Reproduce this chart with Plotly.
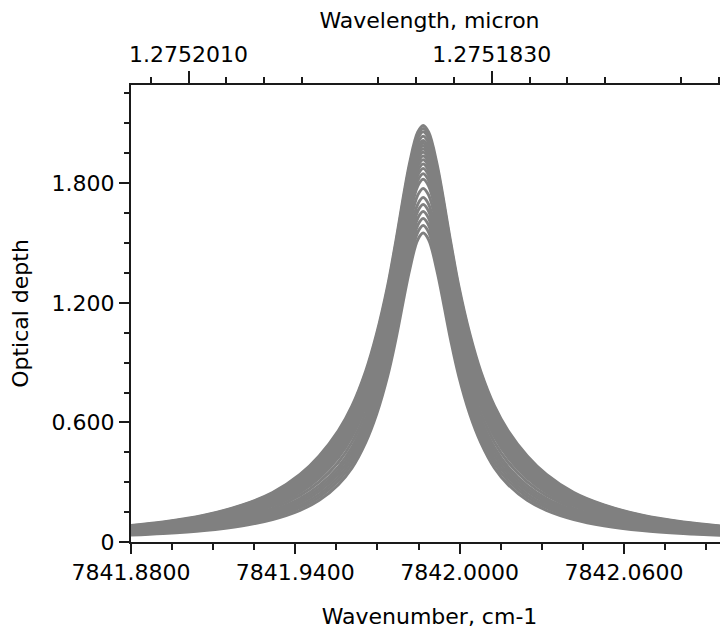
import plotly.graph_objects as go

# Wavenumber sample positions (cm-1)
wavenumber = [7841.8747, 7841.8917, 7841.9067, 7841.9207, 7841.9317, 7841.9417,
              7841.9487, 7841.9557, 7841.9607, 7841.9657, 7841.9697, 7841.9737,
              7841.9767, 7841.9817, 7841.9847, 7841.9867, 7841.9887, 7841.9917,
              7841.9967, 7841.9997, 7842.0037, 7842.0077, 7842.0127, 7842.0177,
              7842.0247, 7842.0317, 7842.0417, 7842.0527, 7842.0667, 7842.0817,
              7842.0987]

# Optical depth curves (lowest to highest)
depth_01 = [0.032, 0.043, 0.058, 0.082, 0.113, 0.159, 0.209, 0.288, 0.372, 0.500, 0.642, 0.832, 1.016, 1.363, 1.516, 1.550,
            1.516, 1.363, 1.016, 0.832, 0.642, 0.500, 0.372, 0.288, 0.209, 0.159, 0.113, 0.082, 0.058, 0.043, 0.032]
depth_02 = [0.035, 0.047, 0.063, 0.089, 0.123, 0.172, 0.225, 0.307, 0.394, 0.525, 0.670, 0.864, 1.050, 1.401, 1.554, 1.588,
            1.554, 1.401, 1.050, 0.864, 0.670, 0.525, 0.394, 0.307, 0.225, 0.172, 0.123, 0.089, 0.063, 0.047, 0.035]
depth_03 = [0.038, 0.051, 0.068, 0.096, 0.131, 0.183, 0.239, 0.325, 0.414, 0.548, 0.696, 0.893, 1.082, 1.435, 1.589, 1.623,
            1.589, 1.435, 1.082, 0.893, 0.696, 0.548, 0.414, 0.325, 0.239, 0.183, 0.131, 0.096, 0.068, 0.051, 0.038]
depth_04 = [0.041, 0.054, 0.073, 0.103, 0.140, 0.195, 0.254, 0.342, 0.434, 0.571, 0.723, 0.922, 1.114, 1.470, 1.624, 1.658,
            1.624, 1.470, 1.114, 0.922, 0.723, 0.571, 0.434, 0.342, 0.254, 0.195, 0.140, 0.103, 0.073, 0.054, 0.041]
depth_05 = [0.044, 0.058, 0.078, 0.110, 0.149, 0.207, 0.268, 0.360, 0.454, 0.595, 0.749, 0.952, 1.146, 1.505, 1.659, 1.693,
            1.659, 1.505, 1.146, 0.952, 0.749, 0.595, 0.454, 0.360, 0.268, 0.207, 0.149, 0.110, 0.078, 0.058, 0.044]
depth_06 = [0.047, 0.062, 0.083, 0.116, 0.158, 0.218, 0.283, 0.377, 0.475, 0.618, 0.775, 0.981, 1.178, 1.540, 1.694, 1.728,
            1.694, 1.540, 1.178, 0.981, 0.775, 0.618, 0.475, 0.377, 0.283, 0.218, 0.158, 0.116, 0.083, 0.062, 0.047]
depth_07 = [0.050, 0.067, 0.090, 0.125, 0.169, 0.234, 0.302, 0.400, 0.501, 0.648, 0.809, 1.020, 1.220, 1.585, 1.740, 1.774,
            1.740, 1.585, 1.220, 1.020, 0.809, 0.648, 0.501, 0.400, 0.302, 0.234, 0.169, 0.125, 0.090, 0.067, 0.050]
depth_08 = [0.054, 0.072, 0.096, 0.134, 0.181, 0.249, 0.321, 0.423, 0.528, 0.679, 0.844, 1.058, 1.262, 1.631, 1.786, 1.820,
            1.786, 1.631, 1.262, 1.058, 0.844, 0.679, 0.528, 0.423, 0.321, 0.249, 0.181, 0.134, 0.096, 0.072, 0.054]
depth_09 = [0.056, 0.074, 0.100, 0.139, 0.187, 0.258, 0.332, 0.437, 0.543, 0.696, 0.864, 1.081, 1.287, 1.657, 1.813, 1.847,
            1.813, 1.657, 1.287, 1.081, 0.864, 0.696, 0.543, 0.437, 0.332, 0.258, 0.187, 0.139, 0.100, 0.074, 0.056]
depth_10 = [0.058, 0.077, 0.104, 0.144, 0.194, 0.267, 0.343, 0.450, 0.559, 0.714, 0.884, 1.103, 1.311, 1.684, 1.840, 1.874,
            1.840, 1.684, 1.311, 1.103, 0.884, 0.714, 0.559, 0.450, 0.343, 0.267, 0.194, 0.144, 0.104, 0.077, 0.058]
depth_11 = [0.060, 0.080, 0.107, 0.149, 0.199, 0.274, 0.352, 0.461, 0.571, 0.729, 0.900, 1.121, 1.331, 1.705, 1.862, 1.896,
            1.862, 1.705, 1.331, 1.121, 0.900, 0.729, 0.571, 0.461, 0.352, 0.274, 0.199, 0.149, 0.107, 0.080, 0.060]
depth_12 = [0.062, 0.082, 0.110, 0.153, 0.205, 0.281, 0.361, 0.472, 0.584, 0.743, 0.916, 1.139, 1.351, 1.727, 1.883, 1.917,
            1.883, 1.727, 1.351, 1.139, 0.916, 0.743, 0.584, 0.472, 0.361, 0.281, 0.205, 0.153, 0.110, 0.082, 0.062]
depth_13 = [0.064, 0.084, 0.112, 0.156, 0.210, 0.288, 0.368, 0.481, 0.594, 0.755, 0.930, 1.155, 1.368, 1.746, 1.902, 1.936,
            1.902, 1.746, 1.368, 1.155, 0.930, 0.755, 0.594, 0.481, 0.368, 0.288, 0.210, 0.156, 0.112, 0.084, 0.064]
depth_14 = [0.065, 0.086, 0.115, 0.160, 0.214, 0.294, 0.376, 0.491, 0.605, 0.768, 0.944, 1.171, 1.385, 1.764, 1.921, 1.955,
            1.921, 1.764, 1.385, 1.171, 0.944, 0.768, 0.605, 0.491, 0.376, 0.294, 0.214, 0.160, 0.115, 0.086, 0.065]
depth_15 = [0.066, 0.088, 0.117, 0.163, 0.218, 0.299, 0.383, 0.499, 0.615, 0.779, 0.956, 1.185, 1.400, 1.780, 1.937, 1.971,
            1.937, 1.780, 1.400, 1.185, 0.956, 0.779, 0.615, 0.499, 0.383, 0.299, 0.218, 0.163, 0.117, 0.088, 0.066]
depth_16 = [0.068, 0.089, 0.120, 0.166, 0.222, 0.305, 0.390, 0.507, 0.624, 0.789, 0.968, 1.198, 1.415, 1.796, 1.953, 1.987,
            1.953, 1.796, 1.415, 1.198, 0.968, 0.789, 0.624, 0.507, 0.390, 0.305, 0.222, 0.166, 0.120, 0.089, 0.068]
depth_17 = [0.069, 0.091, 0.122, 0.169, 0.226, 0.309, 0.395, 0.514, 0.632, 0.798, 0.979, 1.209, 1.427, 1.810, 1.967, 2.001,
            1.967, 1.810, 1.427, 1.209, 0.979, 0.798, 0.632, 0.514, 0.395, 0.309, 0.226, 0.169, 0.122, 0.091, 0.069]
depth_18 = [0.070, 0.092, 0.123, 0.171, 0.229, 0.314, 0.401, 0.520, 0.640, 0.807, 0.989, 1.221, 1.439, 1.823, 1.980, 2.014,
            1.980, 1.823, 1.439, 1.221, 0.989, 0.807, 0.640, 0.520, 0.401, 0.314, 0.229, 0.171, 0.123, 0.092, 0.070]
depth_19 = [0.072, 0.094, 0.126, 0.176, 0.235, 0.321, 0.410, 0.531, 0.652, 0.821, 1.005, 1.239, 1.459, 1.845, 2.002, 2.036,
            2.002, 1.845, 1.459, 1.239, 1.005, 0.821, 0.652, 0.531, 0.410, 0.321, 0.235, 0.176, 0.126, 0.094, 0.072]
depth_20 = [0.073, 0.097, 0.129, 0.180, 0.240, 0.328, 0.419, 0.542, 0.664, 0.836, 1.021, 1.257, 1.479, 1.866, 2.024, 2.058,
            2.024, 1.866, 1.479, 1.257, 1.021, 0.836, 0.664, 0.542, 0.419, 0.328, 0.240, 0.180, 0.129, 0.097, 0.073]
depth_21 = [0.075, 0.098, 0.132, 0.183, 0.244, 0.334, 0.425, 0.550, 0.674, 0.846, 1.033, 1.270, 1.493, 1.882, 2.040, 2.074,
            2.040, 1.882, 1.493, 1.270, 1.033, 0.846, 0.674, 0.550, 0.425, 0.334, 0.244, 0.183, 0.132, 0.098, 0.075]
depth_22 = [0.076, 0.100, 0.134, 0.186, 0.248, 0.339, 0.432, 0.558, 0.683, 0.857, 1.045, 1.284, 1.508, 1.898, 2.056, 2.090,
            2.056, 1.898, 1.508, 1.284, 1.045, 0.857, 0.683, 0.558, 0.432, 0.339, 0.248, 0.186, 0.134, 0.100, 0.076]

curves = [depth_01, depth_02, depth_03, depth_04, depth_05, depth_06, depth_07, depth_08,
          depth_09, depth_10, depth_11, depth_12, depth_13, depth_14, depth_15, depth_16,
          depth_17, depth_18, depth_19, depth_20, depth_21, depth_22]

# Tick labels
x_tick_vals = [7841.88, 7841.94, 7842.00, 7842.06]
x_tick_text = ["7841.8800", "7841.9400", "7842.0000", "7842.0600"]
y_tick_vals = [0, 0.6, 1.2, 1.8]
y_tick_text = ["0", "0.600", "1.200", "1.800"]
wl_tick_vals = [1.2752010, 1.2751830]
wl_tick_text = ["1.2752010", "1.2751830"]

X_RANGE = [7841.88, 7842.098]
Y_RANGE = [0, 2.2926]

FONT = dict(family="DejaVu Sans", size=22, color="#000000")
AXIS_COLOR = "#1a1a1a"

fig = go.Figure()
for c in curves:
    fig.add_trace(go.Scatter(x=wavenumber, y=c, mode="lines",
                             line=dict(color="#808080", width=3, shape="spline"),
                             hoverinfo="skip", showlegend=False))

# invisible trace for top axis
fig.add_trace(go.Scatter(x=X_RANGE, y=[None, None], xaxis="x2", yaxis="y",
                         mode="lines", showlegend=False, hoverinfo="skip"))

# top (wavelength) axis tick positions in wavenumber units
wl_major_pos = [1e4 / w for w in wl_tick_vals]
wl_step = (wl_tick_vals[0] - wl_tick_vals[1]) / 8.0
wl_minor_pos = []
for k in range(-2, 18):
    if k % 8 == 0 or k % 8 == 4:
        continue
    lam = wl_tick_vals[0] - k * wl_step
    wl_minor_pos.append(1e4 / lam)

fig.update_layout(
    width=720, height=621,
    margin=dict(l=123, r=0, t=77, b=87, pad=0),
    paper_bgcolor="white", plot_bgcolor="white",
    font=FONT,
    showlegend=False,
    xaxis=dict(
        range=X_RANGE, showgrid=False, zeroline=False,
        showline=True, linecolor=AXIS_COLOR, linewidth=2,
        ticks="outside", ticklen=10, tickwidth=1.5, tickcolor=AXIS_COLOR,
        tickmode="array", tickvals=x_tick_vals, ticktext=x_tick_text,
        minor=dict(dtick=0.015, tick0=7841.88, ticks="outside", ticklen=6,
                   tickwidth=1.5, tickcolor=AXIS_COLOR, showgrid=False),
        title=dict(text="Wavenumber, cm-1", font=FONT, standoff=26),
        tickfont=FONT,
    ),
    xaxis2=dict(
        range=X_RANGE, overlaying="x", side="top", anchor="y",
        showgrid=False, zeroline=False,
        showline=True, linecolor=AXIS_COLOR, linewidth=2,
        ticks="outside", ticklen=12, tickwidth=1.5, tickcolor=AXIS_COLOR,
        tickmode="array", tickvals=wl_major_pos, ticktext=wl_tick_text,
        minor=dict(tickmode="array", tickvals=wl_minor_pos, ticks="outside",
                   ticklen=6, tickwidth=1.5, tickcolor=AXIS_COLOR, showgrid=False),
        title=dict(text="Wavelength, micron", font=FONT, standoff=10),
        tickfont=FONT,
    ),
    yaxis=dict(
        range=Y_RANGE, showgrid=False, zeroline=False,
        showline=True, linecolor=AXIS_COLOR, linewidth=2,
        ticks="outside", ticklen=10, tickwidth=1.5, tickcolor=AXIS_COLOR,
        tickmode="array", tickvals=y_tick_vals, ticktext=y_tick_text,
        minor=dict(dtick=0.15, tick0=0, ticks="outside", ticklen=5,
                   tickwidth=1.5, tickcolor=AXIS_COLOR, showgrid=False),
        title=dict(text="Optical depth", font=FONT, standoff=24),
        tickfont=FONT,
    ),
)

fig.write_html("out.html")
